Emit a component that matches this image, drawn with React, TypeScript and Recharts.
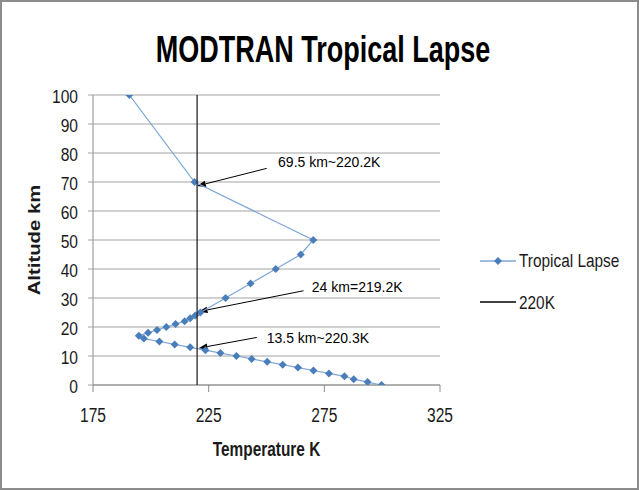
import React from 'react';
import {
  ScatterChart,
  Scatter,
  XAxis,
  YAxis,
  CartesianGrid,
  Legend,
  ReferenceLine,
  ReferenceDot,
  Label,
} from 'recharts';

// ---- data ----
const altitudeKm = [
  0, 1, 2, 3, 4, 5, 6, 7, 8, 9, 10, 11, 12, 13, 14, 15, 16, 17, 18, 19, 20, 21, 22, 23, 24, 25,
  30, 35, 40, 45, 50, 70, 100,
];
const temperatureK = [
  299.7, 293.7, 287.7, 283.7, 277.0, 270.3, 263.6, 257.0, 250.3, 243.6, 237.0, 230.1, 223.6,
  217.0, 210.3, 203.7, 197.0, 194.8, 198.8, 202.7, 206.7, 210.7, 214.6, 217.0, 219.2, 221.4,
  232.3, 243.1, 254.0, 264.8, 270.2, 218.9, 190.7,
];
const refLineTemperature = [220, 220];
const refLineAltitude = [0, 100];
const seriesNames = ['Tropical Lapse', '220K'];
const xTicks = [175, 225, 275, 325];
const yTicks = [0, 10, 20, 30, 40, 50, 60, 70, 80, 90, 100];
const chartTitle = 'MODTRAN Tropical Lapse';
const xTitle = 'Temperature K';
const yTitle = 'Altitude km';

const annotationTexts = ['69.5 km~220.2K', '24 km=219.2K', '13.5 km~220.3K'];
const annotationTextT = [255.0, 269.6, 250.1];
const annotationTextAlt = [75.2, 32.1, 14.5];
const arrowTailT = [250.1, 266.0, 245.8];
const arrowTailAlt = [74.7, 32.5, 16.4];
const arrowTipT = [219.9, 220.6, 220.6];
const arrowTipAlt = [68.6, 25.3, 12.7];

const lapseData = altitudeKm.map((a, i) => ({ t: temperatureK[i], alt: a }));
const refData = refLineTemperature.map((t, i) => ({ t, alt: refLineAltitude[i] }));

// ---- styles ----
const FONT = "'Liberation Sans', Arial, sans-serif";
const TEXT = '#1a1a1a';
const MARKER_BLUE = '#4a7ebb';
const LINE_BLUE = '#7ea6d8';
const REF_BLACK = '#262626';
const AXIS_GRAY = '#8c8c8c';
const GRID_GRAY = '#a3a3a3';
const STRETCH = 1.2;

const Diamond = (p: any) => {
  const { cx, cy } = p;
  if (cx == null || cy == null) return <g />;
  const r = 4;
  return (
    <path
      d={`M${cx},${cy - r}L${cx + r},${cy}L${cx},${cy + r}L${cx - r},${cy}Z`}
      fill={MARKER_BLUE}
    />
  );
};

const NoShape = () => <g />;

const ArrowShape = (p: any) => {
  const { x1, y1, x2, y2 } = p;
  const dx = x2 - x1;
  const dy = y2 - y1;
  const len = Math.hypot(dx, dy) || 1;
  const ux = dx / len;
  const uy = dy / len;
  const hl = 9;
  const hw = 3.2;
  const bx = x2 - ux * hl;
  const by = y2 - uy * hl;
  const pts = `${x2},${y2} ${bx - uy * hw},${by + ux * hw} ${bx + uy * hw},${by - ux * hw}`;
  return (
    <g>
      <line x1={x1} y1={y1} x2={bx} y2={by} stroke="#000" strokeWidth={1} />
      <polygon points={pts} fill="#000" />
    </g>
  );
};

const XTick = (p: any) => {
  const { x, y, payload } = p;
  return (
    <text
      transform={`translate(${x},${y + 14.5}) scale(1,1.25)`}
      textAnchor="middle"
      fontFamily={FONT}
      fontSize={15.6}
      fill={TEXT}
    >
      {payload.value}
    </text>
  );
};

const YTick = (p: any) => {
  const { x, y, payload } = p;
  return (
    <text
      transform={`translate(${x},${y + 8}) scale(1,1.17)`}
      textAnchor="end"
      fontFamily={FONT}
      fontSize={15.6}
      fill={TEXT}
    >
      {payload.value}
    </text>
  );
};

const XTitle = (props: any) => {
  const vb = props.viewBox || { x: 0, y: 0, width: 0, height: 0 };
  const cx = vb.x + vb.width / 2;
  const by = vb.y + 71;
  return (
    <text
      transform={`translate(${cx},${by}) scale(1,1.27)`}
      textAnchor="middle"
      fontFamily={FONT}
      fontWeight="bold"
      fontSize={15.4}
      fill={TEXT}
    >
      {xTitle}
    </text>
  );
};

const YTitle = (props: any) => {
  const vb = props.viewBox || { x: 0, y: 0, width: 0, height: 0 };
  const cx = vb.x + 40;
  const cy = vb.y + vb.height / 2;
  return (
    <text
      transform={`translate(${cx},${cy}) rotate(-90) scale(1.24,1)`}
      textAnchor="middle"
      fontFamily={FONT}
      fontWeight="bold"
      fontSize={16.4}
      fill={TEXT}
    >
      {yTitle}
    </text>
  );
};

const renderLegend = (props: any) => {
  const payload = [...(props.payload || [])].sort(
    (a: any, b: any) => seriesNames.indexOf(a.value) - seriesNames.indexOf(b.value)
  );
  return (
    <div style={{ fontFamily: FONT, fontSize: 15.4, color: TEXT }}>
      {payload.map((entry: any, i: number) => {
        const first = entry.value === seriesNames[0];
        return (
          <div key={i} style={{ display: 'flex', alignItems: 'center', height: 41.6 }}>
            <svg width={36} height={12} style={{ display: 'block' }}>
              <line x1={0} y1={6} x2={36} y2={6} stroke={first ? LINE_BLUE : '#000'} strokeWidth={1.3} />
              {first && <path d="M18,2L22,6L18,10L14,6Z" fill={MARKER_BLUE} />}
            </svg>
            <span
              style={{
                marginLeft: 3,
                lineHeight: 1,
                display: 'inline-block',
                whiteSpace: 'nowrap',
                transform: `scaleY(${STRETCH})`,
              }}
            >
              {entry.value}
            </span>
          </div>
        );
      })}
    </div>
  );
};

const makeAnnotationLabel = (text: string) => (props: any) => {
  const vb = props.viewBox || { x: 0, y: 0 };
  return (
    <text x={vb.x} y={vb.y} textAnchor="start" fontFamily={FONT} fontSize={14} fill="#000">
      {text}
    </text>
  );
};

export default function App() {
  return (
    <div style={{ position: 'absolute', left: 0, top: 0, width: 639, height: 491, background: '#fff' }}>
      <div style={{ position: 'absolute', left: 0, top: 0 }}>
        <ScatterChart width={639} height={491} margin={{ top: 95, right: 199, bottom: 76, left: 0 }}>
          <CartesianGrid vertical={false} stroke={GRID_GRAY} strokeWidth={1} />
          <XAxis
            type="number"
            dataKey="t"
            domain={[175, 325]}
            ticks={xTicks}
            interval={0}
            height={30}
            tickSize={7}
            tickMargin={15}
            axisLine={{ stroke: AXIS_GRAY }}
            tickLine={{ stroke: AXIS_GRAY }}
            tick={XTick}
            allowDataOverflow
          >
            <Label content={XTitle} />
          </XAxis>
          <YAxis
            type="number"
            dataKey="alt"
            domain={[0, 100]}
            ticks={yTicks}
            interval={0}
            width={93}
            tickSize={5}
            tickMargin={10}
            axisLine={{ stroke: AXIS_GRAY }}
            tickLine={{ stroke: GRID_GRAY }}
            tick={YTick}
            allowDataOverflow
          >
            <Label content={YTitle} />
          </YAxis>
          <Legend
            layout="vertical"
            align="center"
            verticalAlign="middle"
            wrapperStyle={{ left: 480, top: 240, width: 155 }}
            content={renderLegend}
          />
          <Scatter
            name={seriesNames[0]}
            data={lapseData}
            fill={MARKER_BLUE}
            line={{ stroke: LINE_BLUE, strokeWidth: 1.2 }}
            shape={Diamond}
            isAnimationActive={false}
          />
          <Scatter
            name={seriesNames[1]}
            data={refData}
            fill="#000"
            line={{ stroke: REF_BLACK, strokeWidth: 1.3 }}
            shape={NoShape}
            isAnimationActive={false}
          />
          {annotationTexts.map((txt, i) => (
            <ReferenceLine
              key={`arrow-${i}`}
              segment={[
                { x: arrowTailT[i], y: arrowTailAlt[i] },
                { x: arrowTipT[i], y: arrowTipAlt[i] },
              ]}
              shape={ArrowShape}
              ifOverflow="visible"
            />
          ))}
          {annotationTexts.map((txt, i) => (
            <ReferenceDot
              key={`text-${i}`}
              x={annotationTextT[i]}
              y={annotationTextAlt[i]}
              r={0}
              fill="none"
              stroke="none"
              ifOverflow="visible"
              label={makeAnnotationLabel(txt)}
            />
          ))}
        </ScatterChart>
      </div>
      <svg
        width={639}
        height={80}
        style={{ position: 'absolute', left: 0, top: 0, pointerEvents: 'none' }}
      >
        <text
          transform="translate(323,61.5) scale(1,1.4)"
          textAnchor="middle"
          fontFamily={FONT}
          fontWeight="bold"
          fontSize={27}
          fill="#000"
        >
          {chartTitle}
        </text>
      </svg>
      <div
        style={{
          position: 'absolute',
          left: 0,
          top: 0,
          width: 639,
          height: 490,
          boxSizing: 'border-box',
          border: '2px solid #8c8c8c',
          pointerEvents: 'none',
        }}
      />
    </div>
  );
}
